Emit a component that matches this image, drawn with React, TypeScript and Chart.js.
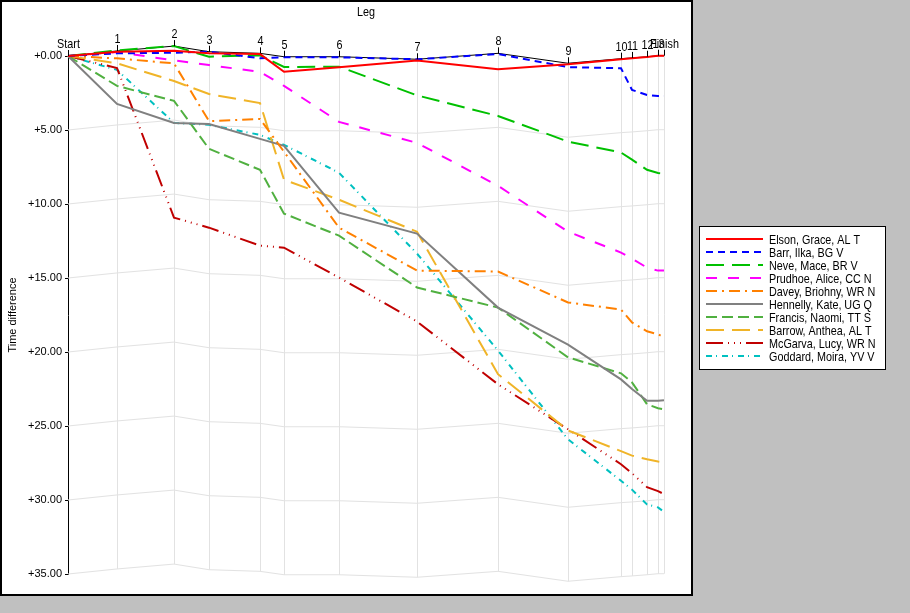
import { useEffect, useRef } from 'react';
import { Chart, registerables } from 'chart.js';

Chart.register(...registerables);

// ---- data ----
const legNames = ['Start', '1', '2', '3', '4', '5', '6', '7', '8', '9', '10', '11', '12', '13', 'Finish'];
const legTimes = [0, 49, 106, 141, 192, 216, 271, 349, 430, 500, 553, 564, 579, 590, 596];
const referenceLine = [0, -0.34, -0.67, -0.29, -0.18, 0.05, 0.05, 0.22, -0.18, 0.49, 0.18, 0.13, 0.05, -0.02, -0.02];
const yTicks = [0, 5, 10, 15, 20, 25, 30, 35];

const runnerNames = [
  'Elson, Grace, AL T',
  'Barr, Ilka, BG V',
  'Neve, Mace, BR V',
  'Prudhoe, Alice, CC N',
  'Davey, Briohny, WR N',
  'Hennelly, Kate, UG Q',
  'Francis, Naomi, TT S',
  'Barrow, Anthea, AL T',
  'McGarva, Lucy, WR N',
  'Goddard, Moira, YV V',
];

const elson = [0, -0.29, -0.36, -0.18, -0.13, 1.06, 0.76, 0.31, 0.9, 0.56, 0.22, 0.16, 0.07, -0.02, -0.02];
const barr = [0, -0.18, -0.22, -0.29, 0.15, 0.09, 0.09, 0.22, -0.13, 0.75, 0.83, 2.29, 2.63, 2.7, 2.7];
const neve = [0, -0.38, -0.67, 0.05, -0.05, 0.74, 0.72, 2.66, 4.05, 5.78, 6.52, 7.0, 7.69, 7.91, 7.93];
const prudhoe = [0, -0.27, 0.3, 0.61, 1.08, 2.02, 4.45, 5.87, 8.77, 11.87, 13.28, 13.69, 14.3, 14.5, 14.5];
const davey = [0, 0.16, 0.5, 4.4, 4.25, 6.47, 11.6, 14.5, 14.56, 16.65, 17.13, 18.0, 18.6, 18.8, 19.0];
const hennelly = [0, 3.24, 4.52, 4.59, 5.6, 6.07, 10.59, 12.0, 17.0, 19.5, 21.85, 22.5, 23.3, 23.3, 23.26];
const francis = [0, 2.02, 3.03, 6.27, 7.69, 10.65, 12.14, 15.64, 17.0, 20.36, 21.44, 22.05, 23.53, 23.8, 23.87];
const barrow = [0, 0.49, 1.69, 2.57, 3.18, 8.36, 9.71, 11.87, 21.5, 25.3, 26.7, 27.0, 27.25, 27.4, 27.45];
const mcgarva = [0, 0.81, 10.92, 11.6, 12.81, 12.95, 14.97, 17.94, 22.18, 25.22, 27.58, 28.19, 29.13, 29.4, 29.6];
const goddard = [0, 0.94, 4.52, 4.65, 5.33, 6.0, 7.89, 13.35, 19.9, 25.9, 28.7, 29.3, 30.3, 30.5, 30.8];

const seriesValues = [elson, barr, neve, prudhoe, davey, hennelly, francis, barrow, mcgarva, goddard];

// ---- styles ----
const colors = ['#ff0000', '#0000ff', '#00c000', '#ff00ff', '#ff8000', '#808080', '#50b040', '#f0b428', '#c00000', '#00c0c0'];
const dashes: number[][] = [
  [],
  [7, 5],
  [18, 8],
  [11, 11],
  [11, 5, 2, 5],
  [],
  [11, 5],
  [18, 8],
  [17, 5, 1, 5, 1, 5, 1, 5],
  [6, 4, 1, 5],
];

const FONT = '"Liberation Sans", Arial, sans-serif';
const TEXT_SIZE = 13;
const TEXT_SQUEEZE = 0.83;

function narrowText(ctx: any, text: string, x: number, y: number, align: 'left' | 'center') {
  ctx.save();
  ctx.translate(x, y);
  ctx.scale(TEXT_SQUEEZE, 1);
  ctx.textAlign = align;
  ctx.fillText(text, 0, 0);
  ctx.restore();
}

export default function App() {
  const ref = useRef<HTMLCanvasElement | null>(null);

  useEffect(() => {
    const canvas = ref.current;
    if (!canvas) return;

    const bgPlugin = {
      id: 'bgPlugin',
      beforeDraw(chart: any) {
        const ctx = chart.ctx;
        ctx.save();
        ctx.fillStyle = '#c0c0c0';
        ctx.fillRect(0, 0, chart.width, chart.height);
        ctx.fillStyle = '#ffffff';
        ctx.fillRect(0, 0, 693, 596);
        ctx.strokeStyle = '#000000';
        ctx.lineWidth = 2;
        ctx.strokeRect(1, 1, 691, 594);
        ctx.restore();
      },
    };

    const gridPlugin = {
      id: 'wavyGrid',
      beforeDatasetsDraw(chart: any) {
        const ctx = chart.ctx;
        const xs = chart.scales.x;
        const ys = chart.scales.y;
        ctx.save();
        ctx.strokeStyle = '#e2e2e2';
        ctx.lineWidth = 1;
        yTicks.forEach((t) => {
          if (t === 0) return;
          ctx.beginPath();
          legTimes.forEach((lt, i) => {
            const px = xs.getPixelForValue(lt);
            const py = ys.getPixelForValue(referenceLine[i] + t);
            if (i === 0) ctx.moveTo(px, py);
            else ctx.lineTo(px, py);
          });
          ctx.stroke();
        });
        const last = yTicks[yTicks.length - 1];
        legTimes.forEach((lt, i) => {
          if (i === 0) return;
          const px = Math.round(xs.getPixelForValue(lt)) + 0.5;
          ctx.beginPath();
          ctx.moveTo(px, ys.getPixelForValue(referenceLine[i]));
          ctx.lineTo(px, ys.getPixelForValue(referenceLine[i] + last));
          ctx.stroke();
        });
        ctx.restore();
      },
    };

    const legAxisPlugin = {
      id: 'legAxis',
      afterDraw(chart: any) {
        const ctx = chart.ctx;
        const xs = chart.scales.x;
        const ys = chart.scales.y;
        ctx.save();
        ctx.strokeStyle = '#000';
        ctx.lineWidth = 1;
        ctx.fillStyle = '#000';
        ctx.font = TEXT_SIZE + 'px ' + FONT;
        ctx.textBaseline = 'alphabetic';
        legTimes.forEach((lt, i) => {
          const px = Math.round(xs.getPixelForValue(lt)) + 0.5;
          const py = ys.getPixelForValue(referenceLine[i]);
          ctx.beginPath();
          ctx.moveTo(px, py);
          ctx.lineTo(px, py - 6);
          ctx.stroke();
          narrowText(ctx, legNames[i], px, py - 8, 'center');
        });
        ctx.textBaseline = 'middle';
        narrowText(ctx, 'Leg', (chart.chartArea.left + chart.chartArea.right) / 2, 12, 'center');
        ctx.restore();
      },
    };

    const legendPlugin = {
      id: 'boxLegend',
      afterDraw(chart: any) {
        const ctx = chart.ctx;
        const bx = 699.5, by = 226.5, bw = 186, bh = 143;
        ctx.save();
        ctx.fillStyle = '#fff';
        ctx.fillRect(bx, by, bw, bh);
        ctx.strokeStyle = '#000';
        ctx.lineWidth = 1;
        ctx.strokeRect(bx, by, bw, bh);
        ctx.font = TEXT_SIZE + 'px ' + FONT;
        ctx.textBaseline = 'middle';
        const items = chart.data.datasets.filter((d: any) => d.label);
        items.forEach((d: any, i: number) => {
          const y = Math.round(239 + i * 13.0);
          ctx.strokeStyle = d.borderColor;
          ctx.lineWidth = 2;
          ctx.setLineDash(d.borderDash || []);
          ctx.beginPath();
          ctx.moveTo(706, y);
          ctx.lineTo(763, y);
          ctx.stroke();
          ctx.setLineDash([]);
          ctx.fillStyle = '#000';
          narrowText(ctx, d.label, 769, y + 1, 'left');
        });
        ctx.restore();
      },
    };

    const datasets: any[] = seriesValues.map((vals, k) => ({
      label: runnerNames[k],
      data: legTimes.map((x, i) => ({ x, y: vals[i] })),
      borderColor: colors[k],
      backgroundColor: colors[k],
      borderWidth: 2,
      borderDash: dashes[k],
      pointRadius: 0,
      fill: false,
      tension: 0,
      clip: false,
    }));
    datasets.push({
      label: '',
      data: legTimes.map((x, i) => ({ x, y: referenceLine[i] })),
      borderColor: '#000000',
      borderWidth: 1,
      pointRadius: 0,
      fill: false,
      tension: 0,
      clip: false,
      order: 100,
    });

    const chart = new Chart(canvas, {
      type: 'line',
      data: { datasets },
      options: {
        animation: false,
        responsive: false,
        maintainAspectRatio: false,
        layout: { padding: { left: 0, top: 56, right: 246, bottom: 39 } },
        plugins: {
          legend: { display: false },
          tooltip: { enabled: false },
          title: { display: false },
        },
        scales: {
          x: { type: 'linear', display: false, min: 0, max: 596 },
          y: {
            type: 'linear',
            reverse: true,
            min: 0,
            max: 35,
            afterFit: (s: any) => {
              s.width = 68;
            },
            ticks: {
              stepSize: 5,
              color: '#000',
              font: { family: FONT, size: 11 },
              padding: 3,
              callback: (v: any) => '+' + Number(v).toFixed(2),
            },
            grid: { drawOnChartArea: false, tickLength: 3, tickColor: '#000', tickWidth: 1 },
            border: { display: true, color: '#000', width: 1 },
            title: {
              display: true,
              text: 'Time difference',
              color: '#000',
              font: { family: FONT, size: 11 },
              padding: { top: 6, bottom: 0 },
            },
          },
        },
      } as any,
      plugins: [bgPlugin, gridPlugin, legAxisPlugin, legendPlugin],
    });

    return () => chart.destroy();
  }, []);

  return (
    <div style={{ position: 'fixed', left: 0, top: 0, width: 910, height: 613, background: '#c0c0c0' }}>
      <canvas ref={ref} width={910} height={613} style={{ width: 910, height: 613, display: 'block' }} />
    </div>
  );
}
